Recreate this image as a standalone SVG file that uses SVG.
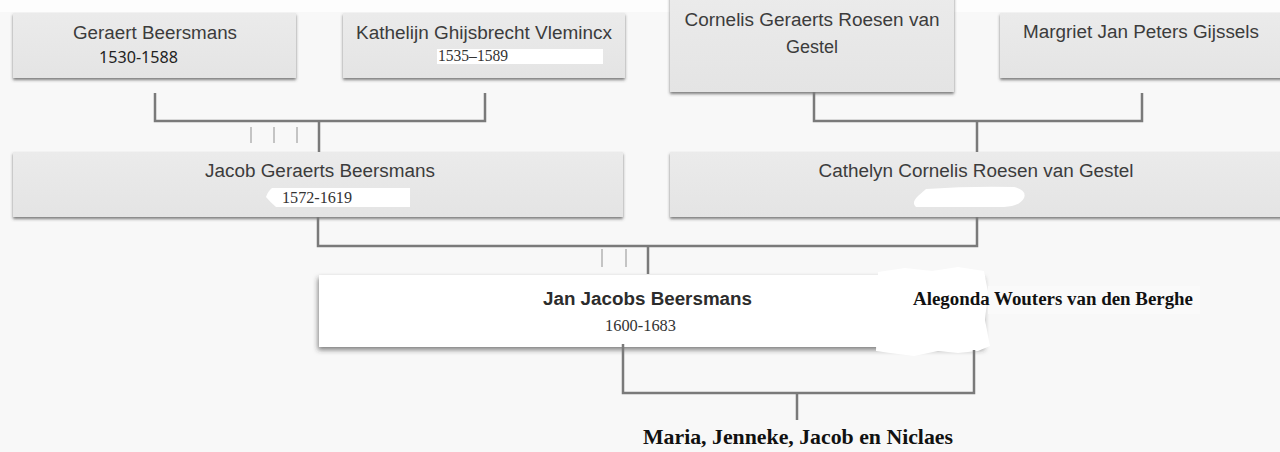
<svg xmlns="http://www.w3.org/2000/svg" width="1280" height="452" viewBox="0 0 1280 452">
<defs>
<filter id="sh" x="-5%" y="-20%" width="110%" height="150%">
<feDropShadow dx="0" dy="2" stdDeviation="1.4" flood-color="#444" flood-opacity="0.7"/>
</filter>
<filter id="shw" x="-5%" y="-20%" width="110%" height="150%">
<feDropShadow dx="-1" dy="3" stdDeviation="2.5" flood-color="#333" flood-opacity="0.6"/>
</filter>
<linearGradient id="boxg" x1="0" y1="0" x2="0" y2="1">
<stop offset="0" stop-color="#ebebeb"/>
<stop offset="1" stop-color="#e4e4e4"/>
</linearGradient>
</defs>
<style>
.box{fill:url(#boxg);filter:url(#sh)}
.name{font-family:"Liberation Sans",Arial,sans-serif;font-size:18px;fill:#3c3c3c;text-anchor:middle}
.date{font-family:"Liberation Serif","Times New Roman",serif;font-size:16px;fill:#333}
.patch{fill:#ffffff}
.con{fill:none;stroke:#7a7a7a;stroke-width:2.5}
.ghost{fill:none;stroke:#c4c4c4;stroke-width:2}
.bold{font-family:"Liberation Serif","Times New Roman",serif;font-weight:bold;fill:#111}
</style>
<rect width="1280" height="452" fill="#f8f8f8"/>
<rect width="1280" height="12" fill="#fdfdfd"/>

<g id="geraert">
<rect class="box" x="13" y="13" width="283" height="65"/>
<text class="name" x="155" y="39" textLength="164" lengthAdjust="spacingAndGlyphs">Geraert Beersmans</text>
<text x="99" y="63" font-family="'Noto Sans','Open Sans',sans-serif" font-size="16" fill="#222" textLength="79" lengthAdjust="spacingAndGlyphs">1530-1588</text>
</g>

<g id="kathelijn">
<rect class="box" x="343" y="13" width="282" height="65"/>
<text class="name" x="484" y="39" textLength="256" lengthAdjust="spacingAndGlyphs">Kathelijn Ghijsbrecht Vlemincx</text>
<rect class="patch" x="437" y="49" width="166" height="15"/>
<text class="date" x="438" y="61" font-size="15" textLength="70" lengthAdjust="spacingAndGlyphs">1535–1589</text>
</g>

<g id="cornelis">
<rect class="box" x="670" y="-6" width="284" height="98"/>
<text class="name" x="812" y="26" textLength="255" lengthAdjust="spacingAndGlyphs">Cornelis Geraerts Roesen van</text>
<text class="name" x="812" y="53">Gestel</text>
</g>

<g id="margriet">
<rect class="box" x="1000" y="13" width="284" height="65"/>
<text class="name" x="1141" y="38" textLength="236" lengthAdjust="spacingAndGlyphs">Margriet Jan Peters Gijssels</text>
</g>

<g id="jacob">
<rect class="box" x="13" y="152" width="610" height="65"/>
<text class="name" x="320" y="177" textLength="230" lengthAdjust="spacingAndGlyphs">Jacob Geraerts Beersmans</text>
<path class="patch" d="M272 188 L410 188 L410 207 L276 207 Q270 202 266 197 Q268 191 272 188 Z"/>
<text class="date" x="282" y="203" textLength="70" lengthAdjust="spacingAndGlyphs">1572-1619</text>
</g>

<g id="cathelyn">
<rect class="box" x="670" y="152" width="614" height="65"/>
<text class="name" x="976" y="177" textLength="315" lengthAdjust="spacingAndGlyphs">Cathelyn Cornelis Roesen van Gestel</text>
<path class="patch" d="M926 189 Q970 186 1014 187 Q1027 190 1024 198 Q1020 206 1004 207 L916 207 Q911 203 918 196 Z"/>
</g>

<g id="jan">
<rect x="319" y="275" width="666" height="72" fill="#ffffff" filter="url(#shw)"/>
<text x="543" y="305" font-family="'Liberation Sans',Arial,sans-serif" font-size="18" font-weight="bold" fill="#2c2c2c" textLength="209" lengthAdjust="spacingAndGlyphs">Jan Jacobs Beersmans</text>
<text class="date" x="605" y="331" textLength="71" lengthAdjust="spacingAndGlyphs">1600-1683</text>
</g>

<g id="alegonda">
<path class="patch" d="M878 272 L905 268 L932 271 L958 267 L984 271 L988 292 L985 320 L990 346 L978 351 L958 353 L938 351 L914 356 L890 353 L876 351 Z"/>
<rect x="988" y="286" width="212" height="28" fill="#fafafa"/>
<text class="bold" x="913" y="305" font-size="18" textLength="280" lengthAdjust="spacingAndGlyphs">Alegonda Wouters van den Berghe</text>
</g>

<g id="children">
<text class="bold" x="798" y="444" font-size="22" text-anchor="middle" textLength="310" lengthAdjust="spacingAndGlyphs">Maria, Jenneke, Jacob en Niclaes</text>
</g>

<g id="connectors">
<path class="con" d="M155 93 V121 H485 V93"/>
<path class="con" d="M319 121 V152"/>
<path class="ghost" d="M251 127 V143 M274 127 V143 M297 127 V143"/>
<path class="con" d="M814 92 V121 H1142 V93"/>
<path class="con" d="M977 121 V152"/>
<path class="con" d="M318 217 V246 H977 V217"/>
<path class="con" d="M648 246 V274"/>
<path class="ghost" d="M602 249 V267 M626 249 V267"/>
<path class="con" d="M623 344 V393 H974 V350"/>
<path class="con" d="M797 393 V420"/>
</g>
</svg>
